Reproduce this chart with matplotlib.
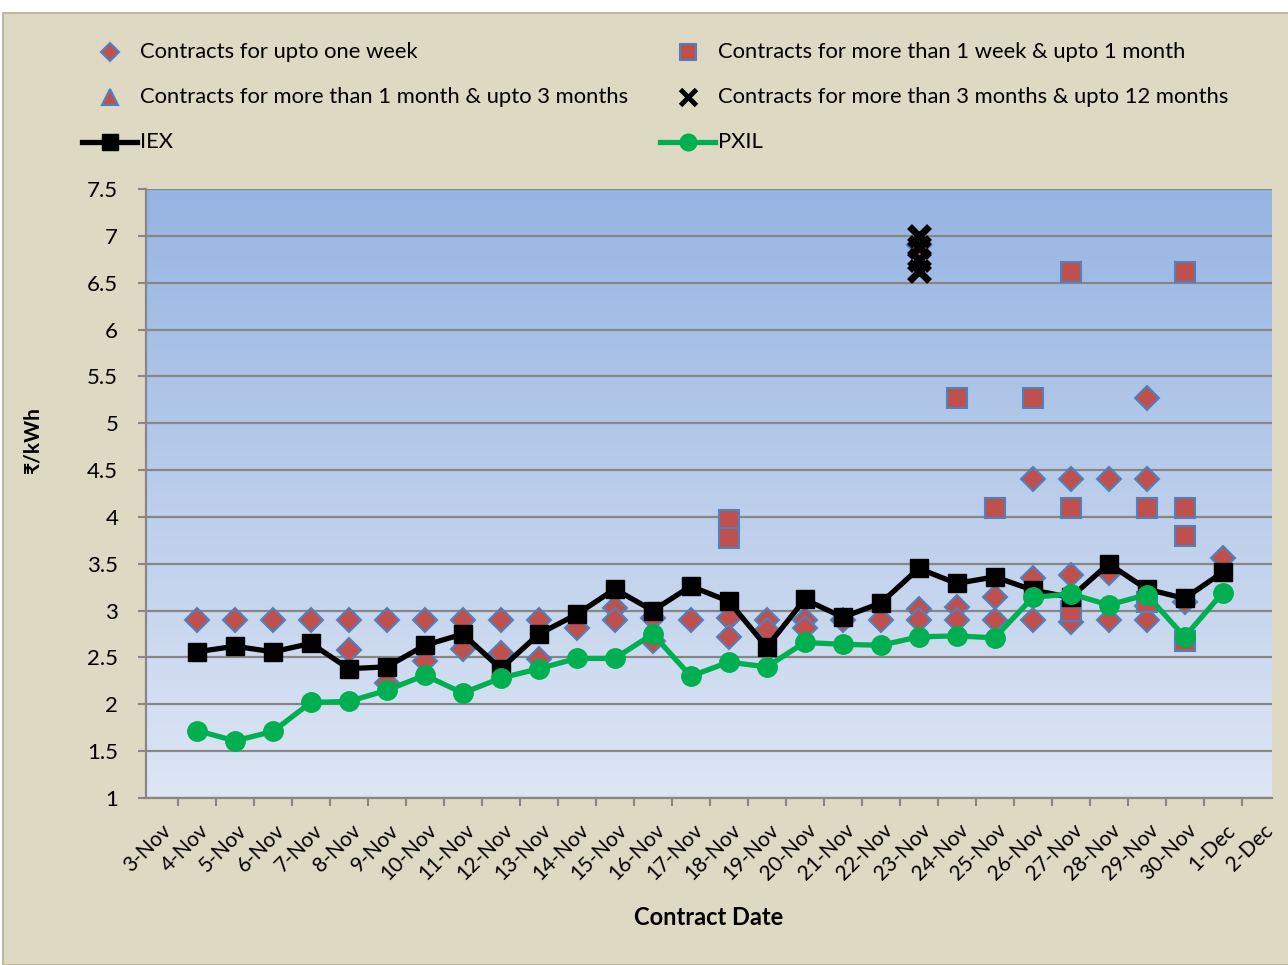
import matplotlib
matplotlib.use('Agg')
import matplotlib.pyplot as plt
from matplotlib.lines import Line2D
from matplotlib.patches import Rectangle
from matplotlib.transforms import ScaledTranslation
import numpy as np

plt.rcParams['font.family'] = ['Lato', 'DejaVu Sans']

# day numbers counted from 1-Nov (31 = 1-Dec)
label_days = list(range(3, 33))
label_text = ['%d-Nov' % d for d in range(3, 31)] + ['1-Dec', '2-Dec']

days = list(range(4, 32))
iex = [2.56, 2.62, 2.56, 2.65, 2.38, 2.40, 2.63, 2.75, 2.38, 2.75, 2.96, 3.23, 3.00, 3.26,
       3.10, 2.61, 3.12, 2.93, 3.08, 3.45, 3.29, 3.36, 3.22, 3.14, 3.50, 3.23, 3.13, 3.41]
pxil = [1.72, 1.61, 1.71, 2.02, 2.03, 2.15, 2.31, 2.12, 2.28, 2.38, 2.49, 2.49, 2.75, 2.30,
        2.45, 2.40, 2.66, 2.64, 2.63, 2.72, 2.73, 2.71, 3.14, 3.18, 3.06, 3.17, 2.72, 3.19]

week_days = [4, 5, 6, 7, 8, 8, 9, 9, 10, 10, 11, 11, 12, 12, 13, 13, 14, 15, 15, 16, 16,
             17, 18, 18, 19, 19, 20, 20, 21, 22, 23, 23, 23, 24, 24, 25, 25, 26, 26, 26,
             27, 27, 27, 28, 28, 28, 29, 29, 29, 29, 30, 31]
week_vals = [2.90, 2.90, 2.90, 2.90, 2.90, 2.58, 2.90, 2.23, 2.90, 2.46, 2.90, 2.59, 2.90, 2.55,
             2.90, 2.48, 2.81, 3.03, 2.90, 2.92, 2.68, 2.90, 2.92, 2.72, 2.90, 2.79, 2.90, 2.81,
             2.90, 2.90, 3.02, 2.90, 6.90, 3.04, 2.90, 3.15, 2.90, 4.41, 3.35, 2.90, 4.41, 3.38,
             2.88, 4.41, 3.40, 2.90, 5.27, 4.41, 3.05, 2.90, 3.09, 3.56]

month_days = [18, 18, 24, 25, 26, 27, 27, 27, 29, 29, 30, 30, 30, 30]
month_vals = [3.97, 3.78, 5.27, 4.09, 5.27, 6.61, 4.09, 3.00, 4.09, 3.09, 6.61, 4.09, 3.80, 2.68]

quarter_days = []
quarter_vals = []

year_days = [23, 23, 23, 23]
year_vals = [7.00, 6.88, 6.74, 6.62]

red = '#C0504D'
blue = '#4F81BD'
green = '#00B050'

fig = plt.figure(figsize=(12.88, 9.65), dpi=100)
fig.patch.set_facecolor('white')
fig.add_artist(Rectangle((3 / 1288, 0), 1, 952 / 965, transform=fig.transFigure,
                         facecolor='#DDD9C3', edgecolor='#BDB89E', lw=1.5, zorder=-10))

ax = fig.add_axes([146 / 1288, 167 / 965, 1126 / 1288, 609 / 965])
ax.set_facecolor('none')

# gradient plot area
grad = np.linspace(0, 1, 256).reshape(-1, 1)
top = np.array([150, 180, 226]) / 255
bot = np.array([222, 230, 244]) / 255
img = top[None, None, :] * (1 - grad[:, :, None]) + bot[None, None, :] * grad[:, :, None]
ax.imshow(img, extent=[0, 1, 0, 1], transform=ax.transAxes, aspect='auto', zorder=0)

ax.set_xlim(2.66, 32.3)
ax.set_ylim(1, 7.5)
ax.set_yticks(np.arange(1, 7.51, 0.5))
ax.set_yticklabels(['1', '1.5', '2', '2.5', '3', '3.5', '4', '4.5', '5', '5.5', '6', '6.5', '7', '7.5'],
                   fontsize=16)
ax.grid(axis='y', color='#878787', lw=1.6, zorder=1)
ax.set_axisbelow(False)

ax.set_xticks(label_days)
ax.set_xticklabels(label_text, rotation=45, ha='right', va='top', rotation_mode='anchor',
                   fontsize=15)
ax.tick_params(axis='x', length=0, pad=16)
shift = ScaledTranslation(2 / 100, 0, fig.dpi_scale_trans)
for lab in ax.get_xticklabels():
    lab.set_transform(lab.get_transform() + shift)
ax.set_xticks(np.arange(3.5, 32, 1), minor=True)
ax.tick_params(axis='x', which='minor', length=6, width=1.5, color='#878787', direction='out')
ax.tick_params(axis='y', length=6, width=1.5, color='#878787', direction='out', pad=14)

for s in ['top', 'right']:
    ax.spines[s].set_visible(False)
for s in ['left', 'bottom']:
    ax.spines[s].set_color('#878787')
    ax.spines[s].set_linewidth(1.6)

ax.plot(week_days, week_vals, ls='none', marker='D', ms=12, mfc=red, mec=blue, mew=1.5, zorder=3)
ax.plot(month_days, month_vals, ls='none', marker='s', ms=14, mfc=red, mec=blue, mew=1.5, zorder=3)
ax.plot(quarter_days, quarter_vals, ls='none', marker='^', ms=12, mfc=red, mec=blue, mew=1.5, zorder=3)
ax.plot(year_days, year_vals, ls='none', marker='x', ms=14, mec='black', mew=5, zorder=4)
ax.plot(days, iex, color='black', lw=3.8, marker='s', ms=13, zorder=5)
ax.plot(days, pxil, color=green, lw=3.8, marker='o', ms=14, zorder=6)

ax.set_ylabel('₹/kWh', fontsize=15, fontweight='bold')
ax.yaxis.set_label_coords(-0.092, 0.588)
ax.set_xlabel('Contract Date', fontsize=17, fontweight='bold', labelpad=16)

# legend
def legend_entry(x, y, text, **kw):
    fig.add_artist(Line2D([x / 1288], [1 - y / 965], transform=fig.transFigure, **kw))
    fig.text(x / 1288 + 30 / 1288, 1 - y / 965, text, fontsize=15.8, va='center', ha='left')

legend_entry(110, 52, 'Contracts for upto one week', marker='D', ms=9, mfc=red, mec=blue, mew=1.5, ls='none')
legend_entry(688, 52, 'Contracts for more than 1 week & upto 1 month', marker='s', ms=11, mfc=red, mec=blue, mew=1.5, ls='none')
legend_entry(110, 97, 'Contracts for more than 1 month & upto 3 months', marker='^', ms=11, mfc=red, mec=blue, mew=1.5, ls='none')
legend_entry(688, 97, 'Contracts for more than 3 months & upto 12 months', marker='x', ms=11, mec='black', mew=3.5, ls='none')

for x0, y0, col, mk, text in [(110, 142, 'black', 's', 'IEX'), (688, 142, green, 'o', 'PXIL')]:
    fig.add_artist(Line2D([(x0 - 28) / 1288, (x0 + 27) / 1288], [1 - y0 / 965] * 2,
                          transform=fig.transFigure, color=col, lw=3.8))
    fig.add_artist(Line2D([x0 / 1288], [1 - y0 / 965], transform=fig.transFigure,
                          marker=mk, ms=12, color=col, ls='none'))
    fig.text((x0 + 30) / 1288, 1 - y0 / 965, text, fontsize=15.8, va='center', ha='left')

fig.savefig('out.png', dpi=100, facecolor=fig.get_facecolor())
